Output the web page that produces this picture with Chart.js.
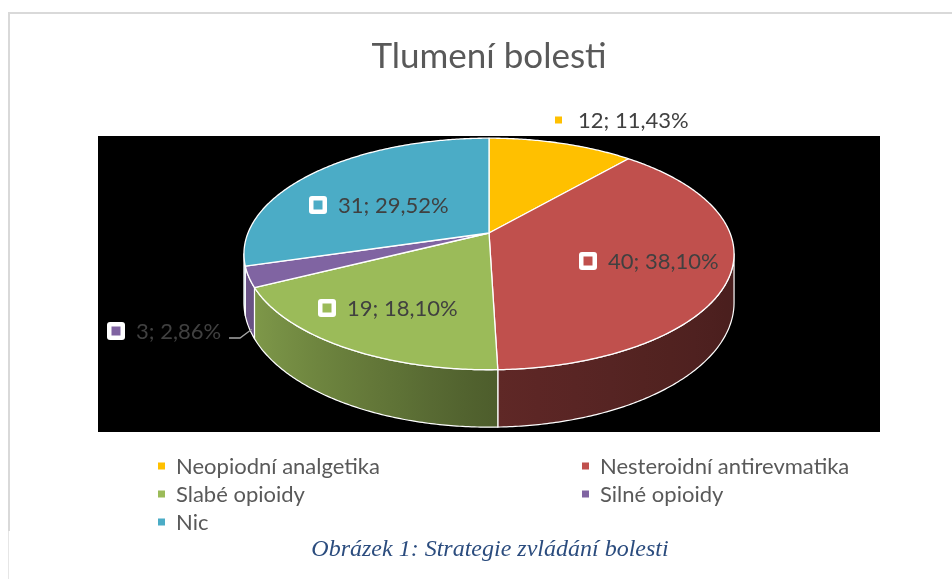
<!DOCTYPE html>
<html lang="cs">
<head>
<meta charset="utf-8">
<title>Tlumení bolesti</title>
<script src="https://cdn.jsdelivr.net/npm/chart.js@4.4.1/dist/chart.umd.min.js"></script>
<style>
  html, body { margin: 0; padding: 0; background: #fff; }
  #wrap { position: relative; width: 952px; height: 579px; overflow: hidden; }
  #chart { position: absolute; left: 0; top: 0; }
  #caption {
    position: absolute; left: 14px; top: 535px; width: 952px; line-height: 26px;
    text-align: center; color: #2b4c7e;
    font: italic 24px "Liberation Serif", "Times New Roman", serif;
  }
</style>
</head>
<body>
<div id="wrap">
  <canvas id="chart" width="952" height="579"></canvas>
  <div id="caption">Obrázek 1: Strategie zvládání bolesti</div>
</div>
<script>
// data
const categories = ['Neopiodní analgetika', 'Nesteroidní antirevmatika', 'Slabé opioidy', 'Silné opioidy', 'Nic'];
const counts = [12, 40, 19, 3, 31];
const sliceColors = ['#ffc000', '#c0504d', '#9bbb59', '#8064a2', '#4bacc6'];

// where Excel put the data labels (key left edge, vertical centre)
const labelSpots = [
  { x: 555, y: 120, boxed: false },
  { x: 579, y: 261, boxed: true },
  { x: 318, y: 308, boxed: true },
  { x: 107, y: 331, boxed: true, leader: true },
  { x: 309, y: 205, boxed: true }
];

// tilt / perspective of the 3D pie
const view = { rx: 241, ry: 112, persp: 0.181, depth: 47, lift: 51 };
const FONT = 'Lato';
const labelSize = 22;
const legendSize = 22;

const total = counts.reduce((a, b) => a + b, 0);
const pctText = v => (v / total * 100).toFixed(2).replace('.', ',') + '%';

function project(arc, theta, r, bottom) {
  const u = r * Math.sin(theta), v = r * Math.cos(theta);
  const den = 1 + view.persp * v;
  return {
    x: arc.x + view.rx * u / den,
    y: arc.y - view.lift - view.ry * v / den + (bottom ? view.depth / den : 0)
  };
}

function shade(hex, f) {
  const n = parseInt(hex.slice(1), 16);
  const r = Math.round(((n >> 16) & 255) * f);
  const g = Math.round(((n >> 8) & 255) * f);
  const b = Math.round((n & 255) * f);
  return `rgb(${r},${g},${b})`;
}

// side wall is lit from the left
const sideLight = t => 0.5 + 0.35 * Math.max(0, -Math.sin(t)) - 0.12 * Math.max(0, Math.sin(t));

const pie3d = {
  id: 'pie3d',
  beforeDraw(chart) {
    const { ctx, chartArea: a } = chart;
    ctx.save();
    ctx.fillStyle = '#fff';
    ctx.fillRect(0, 0, chart.width, chart.height);
    ctx.fillStyle = '#d9d9d9';
    ctx.fillRect(8, 12, chart.width - 8, 2);
    ctx.fillRect(8, 12, 2, 519);
    ctx.fillStyle = '#e6e6e6';
    ctx.fillRect(8, 531, 1, chart.height - 531);
    ctx.fillStyle = '#000';
    ctx.fillRect(a.left, a.top, a.right - a.left, a.bottom - a.top);
    ctx.restore();
  },
  beforeDatasetDraw(chart, args) {
    const { ctx } = chart;
    const arcs = args.meta.data;
    const colors = chart.data.datasets[0].backgroundColor;
    const lo = Math.acos(-view.persp), hi = 2 * Math.PI - lo;
    ctx.save();
    ctx.lineJoin = 'round';
    ctx.strokeStyle = '#fff';

    // side walls (front half only)
    arcs.forEach((arc, i) => {
      const s = Math.max(arc.startAngle + Math.PI / 2, lo);
      const e = Math.min(arc.endAngle + Math.PI / 2, hi);
      if (e <= s) return;
      const steps = Math.max(2, Math.ceil((e - s) / 0.01));
      const top = [], bot = [];
      for (let k = 0; k <= steps; k++) {
        const t = s + (e - s) * k / steps;
        top.push(project(arc, t, 1, false));
        bot.push(project(arc, t, 1, true));
      }
      const x0 = top[0].x, x1 = top[steps].x;
      const grad = ctx.createLinearGradient(x0, 0, x1, 0);
      for (let k = 0; k <= 10; k++) {
        const t = s + (e - s) * k / 10;
        let stop = Math.abs(x1 - x0) < 0.5 ? k / 10 : (project(arc, t, 1, false).x - x0) / (x1 - x0);
        stop = Math.min(1, Math.max(0, stop));
        grad.addColorStop(stop, shade(colors[i], sideLight(t)));
      }
      ctx.beginPath();
      top.forEach((p, k) => k ? ctx.lineTo(p.x, p.y) : ctx.moveTo(p.x, p.y));
      for (let k = steps; k >= 0; k--) ctx.lineTo(bot[k].x, bot[k].y);
      ctx.closePath();
      ctx.fillStyle = grad;
      ctx.fill();
      ctx.lineWidth = 1.2;
      ctx.stroke();
    });

    // top faces
    arcs.forEach((arc, i) => {
      const s = arc.startAngle + Math.PI / 2, e = arc.endAngle + Math.PI / 2;
      const steps = Math.max(2, Math.ceil((e - s) / 0.01));
      const c = project(arc, 0, 0, false);
      ctx.beginPath();
      ctx.moveTo(c.x, c.y);
      for (let k = 0; k <= steps; k++) {
        const p = project(arc, s + (e - s) * k / steps, 1, false);
        ctx.lineTo(p.x, p.y);
      }
      ctx.closePath();
      ctx.fillStyle = colors[i];
      ctx.fill();
      ctx.lineWidth = 1.3;
      ctx.stroke();
    });
    ctx.restore();
    return false;
  },
  afterDraw(chart) {
    const { ctx } = chart;
    const arcs = chart.getDatasetMeta(0).data;
    const values = chart.data.datasets[0].data;
    const colors = chart.data.datasets[0].backgroundColor;
    ctx.save();
    ctx.textBaseline = 'middle';
    ctx.textAlign = 'left';

    // data labels
    ctx.font = `${labelSize}px ${FONT}`;
    values.forEach((v, i) => {
      const spot = labelSpots[i];
      const text = `${v}; ${pctText(v)}`;
      let tx;
      if (spot.boxed) {
        ctx.fillStyle = '#fff';
        ctx.beginPath();
        ctx.roundRect(spot.x, spot.y - 9, 18, 18, 3);
        ctx.fill();
        ctx.fillStyle = colors[i];
        ctx.fillRect(spot.x + 4.5, spot.y - 4.5, 9, 9);
        tx = spot.x + 29;
      } else {
        ctx.fillStyle = colors[i];
        ctx.fillRect(spot.x, spot.y - 3.5, 7, 7);
        tx = spot.x + 23;
      }
      ctx.fillStyle = '#404040';
      ctx.fillText(text, tx, spot.y + 1);
      if (spot.leader) {
        const arc = arcs[i];
        const mid = (arc.startAngle + arc.endAngle) / 2 + Math.PI / 2;
        const end = project(arc, mid, 1, true);
        const sx = tx + ctx.measureText(text).width + 8;
        ctx.strokeStyle = '#a6a6a6';
        ctx.lineWidth = 1.3;
        ctx.beginPath();
        ctx.moveTo(sx, spot.y + 7);
        ctx.lineTo(sx + 11, spot.y + 7);
        ctx.lineTo(end.x + 3, end.y + 2);
        ctx.stroke();
      }
    });

    // legend, two columns
    ctx.font = `${legendSize}px ${FONT}`;
    chart.data.labels.forEach((name, i) => {
      const x = [158, 582][i % 2];
      const y = 466 + 28 * Math.floor(i / 2);
      ctx.fillStyle = colors[i];
      ctx.fillRect(x, y - 3.5, 7, 7);
      ctx.fillStyle = '#595959';
      ctx.fillText(name, x + 18, y + 1);
    });
    ctx.restore();
  }
};

Chart.defaults.font.family = FONT;

new Chart(document.getElementById('chart'), {
  type: 'pie',
  data: {
    labels: categories,
    datasets: [{ data: counts, backgroundColor: sliceColors, borderColor: '#fff', borderWidth: 1 }]
  },
  options: {
    responsive: false,
    animation: false,
    events: [],
    layout: { padding: { left: 98, right: 72, top: 0, bottom: 147 } },
    plugins: {
      legend: { display: false },
      tooltip: { enabled: false },
      title: {
        display: true,
        text: 'Tlumení bolesti',
        color: '#595959',
        font: { family: FONT, size: 35, weight: 'normal' },
        padding: { top: 36, bottom: 58 }
      }
    }
  },
  plugins: [pie3d]
});
</script>
</body>
</html>
